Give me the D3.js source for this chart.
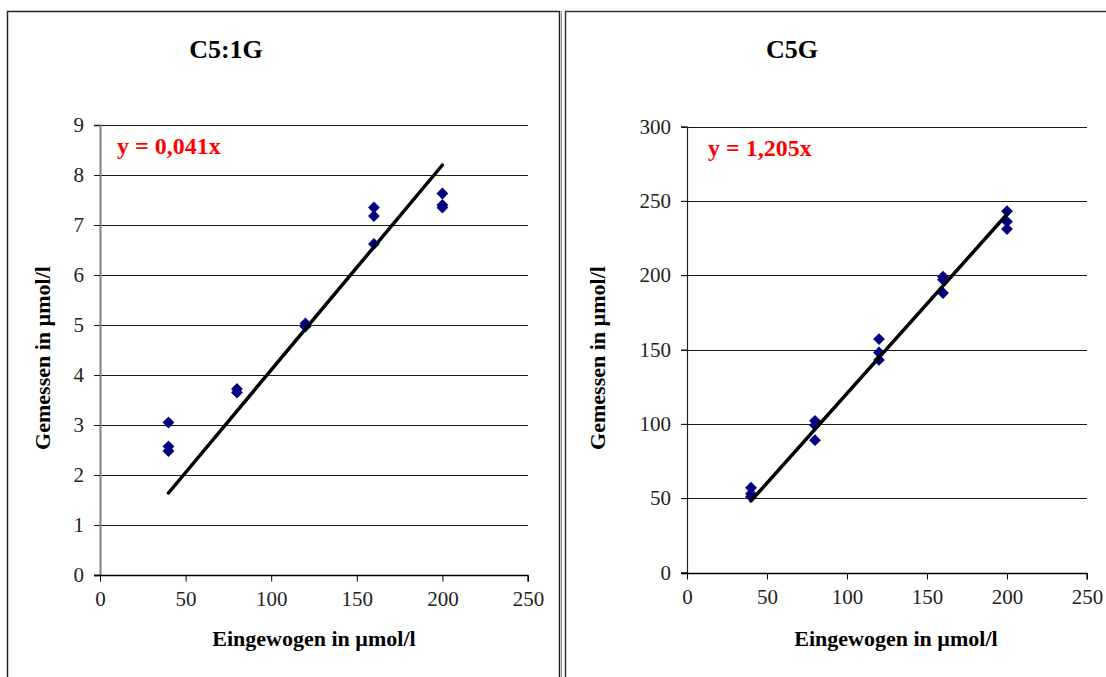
<!DOCTYPE html>
<html>
<head>
<meta charset="utf-8">
<script src="https://cdn.jsdelivr.net/npm/d3@7"></script>
<style>
body{margin:0;background:#fff;}
text{font-family:"Liberation Serif","Times New Roman",serif;}
</style>
</head>
<body>
<div id="graph"></div>
<script>
// C5:1G
var c51X=[40,40,40,80,80,120,120,160,160,160,200,200,200];
var c51Y=[3.05,2.57,2.48,3.72,3.65,5.03,4.97,7.35,7.18,6.62,7.63,7.40,7.35];
var c51Slope=0.041;
var c51YTicks=[0,1,2,3,4,5,6,7,8,9];
// C5G
var c5gX=[40,40,40,80,80,80,120,120,120,160,160,160,200,200,200];
var c5gY=[57,53,51,102,99,89,157,148,143,199,197,188,243,236,231];
var c5gSlope=1.205;
var c5gYTicks=[0,50,100,150,200,250,300];

var xTicks=[0,50,100,150,200,250];
var fitRange=[40,200];

var svg=d3.select("#graph").append("svg")
  .attr("width",1106)
  .attr("height",677);

function drawPanel(p){
  var g=svg.append("g");

  g.append("rect")
    .attr("x",p.box[0]).attr("y",p.box[1])
    .attr("width",p.box[2]).attr("height",p.box[3])
    .attr("fill","#fff").attr("stroke",p.boxColor).attr("stroke-width",1.5);

  var x=d3.scaleLinear().domain([0,250]).range([p.left,p.right]);
  var y=d3.scaleLinear().domain([0,d3.max(p.yTicks)]).range([p.bottom,p.top]);

  // gridlines (and left tick marks)
  g.append("g").selectAll("line")
    .data(p.yTicks.slice(1))
    .enter().append("line")
      .attr("x1",p.left-6).attr("x2",p.right)
      .attr("y1",function(d){return Math.round(y(d))+0.5;})
      .attr("y2",function(d){return Math.round(y(d))+0.5;})
      .attr("stroke","#1a1a1a").attr("stroke-width",1.2);

  var yAxis=g.append("g")
    .attr("transform","translate("+p.left+",0)")
    .call(d3.axisLeft(y).tickValues(p.yTicks).tickSize(6).tickPadding(10));
  yAxis.select(".domain").attr("stroke",p.axisColor).attr("stroke-width",p.axisWidth);
  yAxis.selectAll(".tick line").attr("stroke","#1a1a1a");
  yAxis.selectAll("text").style("font-size","21px").attr("fill","#222");

  var xAxis=g.append("g")
    .attr("transform","translate(0,"+(Math.round(p.bottom)+0.5)+")")
    .call(d3.axisBottom(x).tickValues(xTicks).tickSize(6).tickSizeOuter(6).tickPadding(10));
  xAxis.select(".domain").attr("stroke","#000").attr("stroke-width",1.3)
    .attr("d","M"+(p.left-6)+",0H"+p.right+"V6");
  xAxis.selectAll(".tick line").attr("stroke","#000");
  xAxis.selectAll("text").style("font-size","21px").attr("fill","#222");

  // points
  g.append("g").selectAll("path")
    .data(p.xs)
    .enter().append("path")
      .attr("d",d3.symbol(d3.symbolSquare,70))
      .attr("fill","#000080")
      .attr("transform",function(d,i){return "translate("+x(d)+","+y(p.ys[i])+")rotate(45)";});

  // trend line
  g.append("line")
    .attr("x1",x(fitRange[0])).attr("y1",y(p.slope*fitRange[0]))
    .attr("x2",x(fitRange[1])).attr("y2",y(p.slope*fitRange[1]))
    .attr("stroke","#000").attr("stroke-width",3.5).attr("stroke-linecap","round");

  g.append("text")
    .attr("x",p.titleX).attr("y",58)
    .attr("text-anchor","middle")
    .style("font-size","26px").style("font-weight","bold")
    .text(p.title);

  g.append("text")
    .attr("x",p.eqX).attr("y",p.top+29)
    .attr("fill","#ff0000")
    .style("font-size","24px").style("font-weight","bold")
    .text(p.eq);

  g.append("text")
    .attr("transform","translate("+p.yLabelX+",358)rotate(-90)")
    .attr("text-anchor","middle")
    .style("font-size","22px").style("font-weight","bold")
    .text("Gemessen in µmol/l");

  g.append("text")
    .attr("x",p.xLabelX).attr("y",646)
    .attr("text-anchor","middle")
    .style("font-size","22px").style("font-weight","bold")
    .text("Eingewogen in µmol/l");
}

drawPanel({box:[7.5,11.5,552,700],boxColor:"#222",left:100,right:528,top:125,bottom:575,
  yTicks:c51YTicks,xs:c51X,ys:c51Y,slope:c51Slope,axisColor:"#808080",axisWidth:2,
  title:"C5:1G",titleX:226,eq:"y = 0,041x",eqX:117,yLabelX:50,xLabelX:314});

svg.append("line").attr("x1",561.5).attr("x2",561.5).attr("y1",11).attr("y2",677)
  .attr("stroke","#999").attr("stroke-width",1);

drawPanel({box:[565.5,11.5,600,700],boxColor:"#333",left:687,right:1087,top:126.5,bottom:572.5,
  yTicks:c5gYTicks,xs:c5gX,ys:c5gY,slope:c5gSlope,axisColor:"#222",axisWidth:1.2,
  title:"C5G",titleX:792,eq:"y = 1,205x",eqX:708,yLabelX:605,xLabelX:896});
</script>
</body>
</html>
